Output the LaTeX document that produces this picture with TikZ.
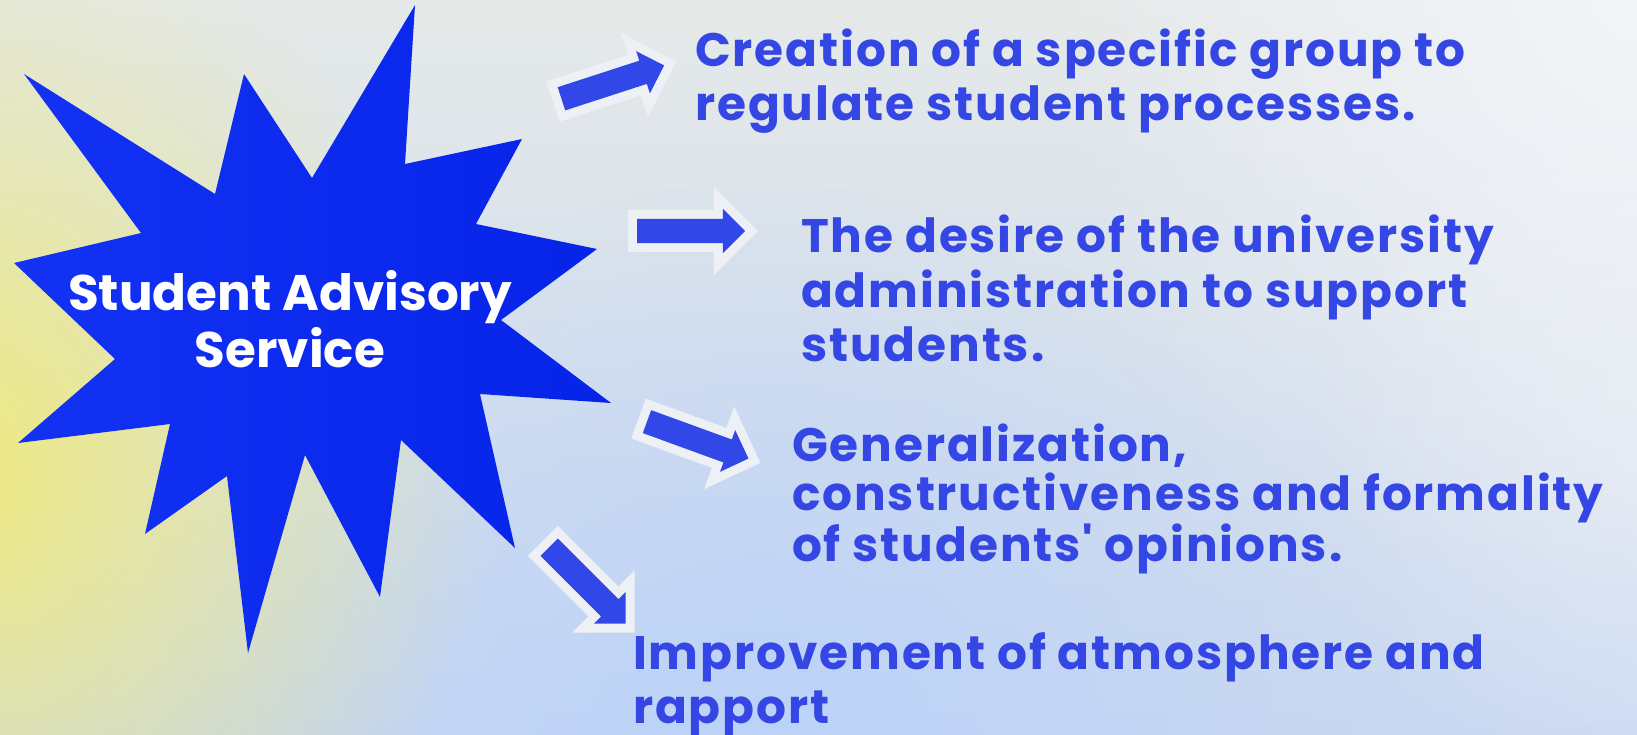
\documentclass[tikz,border=0pt]{standalone}
\usepackage{fontspec}
\setmainfont{Poppins}
\newfontfamily\itemfont{Poppins}[LetterSpace=4]
\usetikzlibrary{shapes.arrows,fadings}
\definecolor{textblue}{HTML}{3446E4}
\definecolor{arrowblue}{HTML}{3247E8}
\definecolor{arrowrim}{HTML}{EDF1F5}
\definecolor{starleft}{HTML}{1432F4}
\definecolor{starright}{HTML}{0624E8}
\definecolor{bgtop}{HTML}{E5E9E8}
\definecolor{bgbottom}{HTML}{C8D8F2}
\definecolor{bgyellow}{HTML}{F0EA7A}
\definecolor{bgblue}{HTML}{B8D0FA}
\definecolor{bgwhite}{HTML}{F3F5F9}
\tikzfading[name=blob, inner color=transparent!0, outer color=transparent!100]
\begin{document}
\begin{tikzpicture}[x=1pt,y=-1pt,
    flow/.style={single arrow, minimum height=108pt, minimum width=44pt,
      single arrow head extend=10pt, inner xsep=0pt, inner ysep=12pt,
      fill=arrowblue, preaction={draw=arrowrim, line width=18pt}},
    item/.style={anchor=base west, align=left, inner sep=0pt, text=textblue,
      font=\itemfont\bfseries\fontsize{47}{#1}\selectfont},
    item/.default=54]
  \useasboundingbox (0,0) rectangle (1637,734);
  \clip (0,0) rectangle (1637,734);
  \shade[top color=bgtop, bottom color=bgbottom] (0,0) rectangle (1637,734);
  \fill[bgwhite, path fading=blob] (1637,0) circle (600);
  \fill[bgwhite, path fading=blob, opacity=.6] (1720,430) circle (420);
  \fill[bgblue, path fading=blob, opacity=.8] (760,780) circle (600);
  \fill[bgyellow, path fading=blob] (-70,470) circle (560);
  \shade[left color=starleft, right color=starright]
    (415,5) -- (405,164) -- (522,139) -- (476,224) -- (597,249) -- (501,320)
    -- (611,403) -- (480,394) -- (515,548) -- (401,440) -- (380,597) -- (305,455)
    -- (248,653) -- (227,476) -- (145,534) -- (170,424) -- (18,443) -- (115,359)
    -- (14,263) -- (141,233) -- (24,74) -- (215,194) -- (244,74) -- (312,178) -- cycle;
  \node[align=center, text=white, font=\bfseries\fontsize{50}{57}\selectfont]
    (sas) at (290,319.5) {Student Advisory\\Service};
  \node[flow, rotate=18] (a1) at (607,84) {};
  \node[flow] (a2) at (685,231) {};
  \node[flow, rotate=-20] (a3) at (692,438) {};
  \node[flow, rotate=-45] (a4) at (583,581) {};
  \node[item=53.3] (t1) at (695,120) {Creation of a specific group to\\regulate student processes.};
  \node[item=54.7] (t2) at (801,361.7) {The desire of the university\\administration to support\\students.};
  \node[item=48.8] (t3) at (792,561.7) {Generalization,\\constructiveness and formality\\of students' opinions.};
  \node[item=54.3] (t4) at (633,723.3) {Improvement of atmosphere and\\rapport};
\end{tikzpicture}
\end{document}
